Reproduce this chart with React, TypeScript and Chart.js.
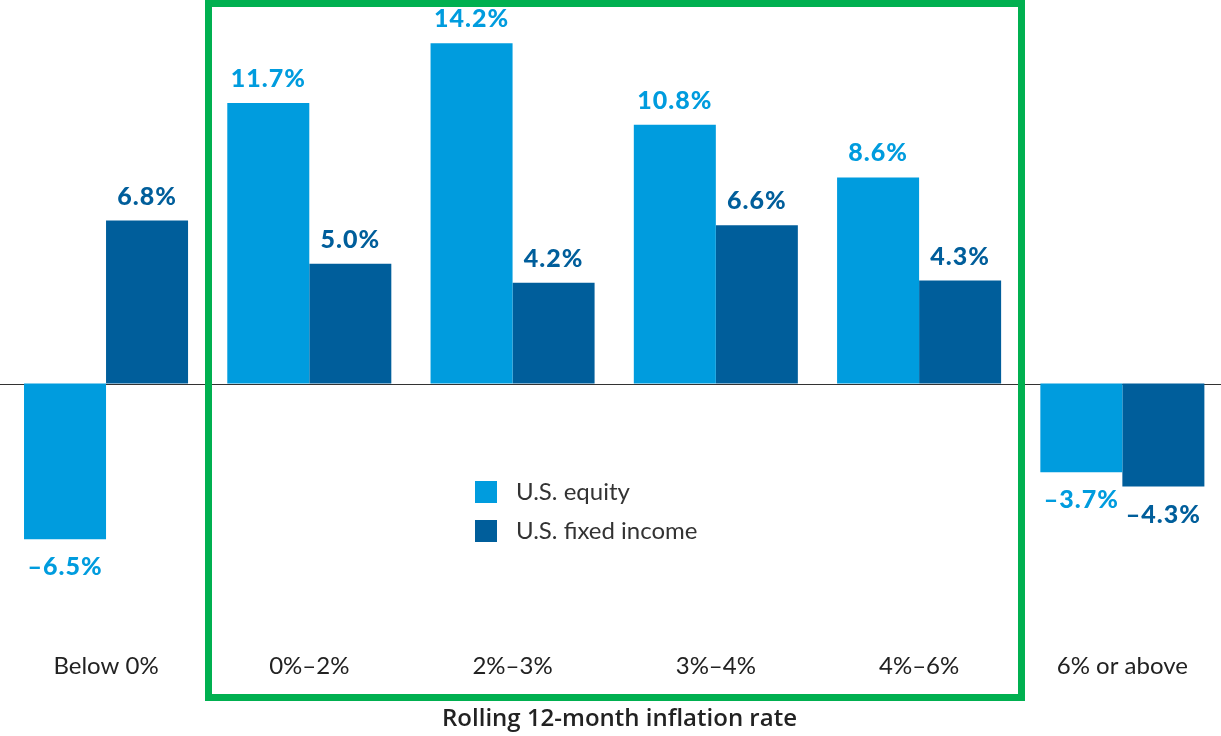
import React, { useEffect, useRef } from "react";
import { Chart, registerables } from "chart.js";

Chart.register(...registerables);

const categories = ["Below 0%", "0%–2%", "2%–3%", "3%–4%", "4%–6%", "6% or above"];
const equityValues = [-6.5, 11.7, 14.2, 10.8, 8.6, -3.7];
const fixedIncomeValues = [6.8, 5.0, 4.2, 6.6, 4.3, -4.3];
const seriesNames = ["U.S. equity", "U.S. fixed income"];
const xAxisTitle = "Rolling 12-month inflation rate";

const EQUITY_COLOR = "#009CDE";
const FIXED_COLOR = "#005E9B";
const GREEN = "#00B050";
const FONT = "Lato, 'Noto Sans', sans-serif";

const overlayPlugin = {
  id: "overlay",
  beforeDatasetsDraw(chart: any) {
    const { ctx } = chart;
    const y0 = chart.scales.y.getPixelForValue(0);
    ctx.save();
    ctx.strokeStyle = "#333333";
    ctx.lineWidth = 1;
    ctx.beginPath();
    ctx.moveTo(0, Math.round(y0) + 0.5);
    ctx.lineTo(chart.width, Math.round(y0) + 0.5);
    ctx.stroke();
    ctx.restore();
  },
  afterDatasetsDraw(chart: any) {
    const { ctx } = chart;
    ctx.save();
    // value labels
    chart.data.datasets.forEach((ds: any, di: number) => {
      const meta = chart.getDatasetMeta(di);
      meta.data.forEach((bar: any, i: number) => {
        const v = ds.data[i];
        const txt = (v < 0 ? "–" : "") + Math.abs(v).toFixed(1) + "%";
        ctx.font = `900 25px ${FONT}`;
        (ctx as any).letterSpacing = "1px";
        ctx.fillStyle = ds.backgroundColor;
        ctx.textAlign = "center";
        ctx.textBaseline = "middle";
        const y = v >= 0 ? bar.y - 24 : bar.y + 28;
        ctx.fillText(txt, bar.x, y);
      });
    });
    (ctx as any).letterSpacing = "0px";
    // legend
    chart.data.datasets.forEach((ds: any, di: number) => {
      const top = 481 + di * 39;
      ctx.fillStyle = ds.backgroundColor;
      ctx.fillRect(475, top, 22, 22);
      ctx.fillStyle = "#333333";
      ctx.font = `24px ${FONT}`;
      ctx.textAlign = "left";
      ctx.textBaseline = "middle";
      ctx.fillText(ds.label, 516, top + 11);
    });
    // green box
    ctx.strokeStyle = GREEN;
    ctx.lineWidth = 7;
    ctx.strokeRect(208.5, 3.5, 813, 694);
    // axis title
    ctx.fillStyle = "#222222";
    ctx.font = `600 24px 'Open Sans', sans-serif`;
    ctx.textAlign = "center";
    ctx.textBaseline = "middle";
    ctx.fillText(xAxisTitle, 619.5, 719);
    ctx.restore();
  },
};

export default function App() {
  const ref = useRef<HTMLCanvasElement | null>(null);
  useEffect(() => {
    if (!ref.current) return;
    const chart = new Chart(ref.current, {
      type: "bar",
      data: {
        labels: categories,
        datasets: [
          { label: seriesNames[0], data: equityValues, backgroundColor: EQUITY_COLOR, categoryPercentage: 0.807, barPercentage: 1 },
          { label: seriesNames[1], data: fixedIncomeValues, backgroundColor: FIXED_COLOR, categoryPercentage: 0.807, barPercentage: 1 },
        ],
      },
      options: {
        responsive: false,
        animation: false,
        layout: { padding: { left: 4.4, right: 0, top: 0, bottom: 50 } },
        plugins: { legend: { display: false }, tooltip: { enabled: false }, title: { display: false } },
        scales: {
          x: {
            grid: { display: false, drawTicks: false },
            border: { display: false },
            ticks: { color: "#222222", font: { family: FONT, size: 24 }, padding: 5, maxRotation: 0 },
          },
          y: { display: false, min: -11, max: 16 },
        },
      },
      plugins: [overlayPlugin],
    });
    return () => chart.destroy();
  }, []);
  return (
    <div style={{ position: "absolute", left: 0, top: 0, width: 1221, height: 736, overflow: "hidden", background: "#fff" }}>
      <canvas ref={ref} width={1224} height={736} style={{ display: "block" }} />
    </div>
  );
}
